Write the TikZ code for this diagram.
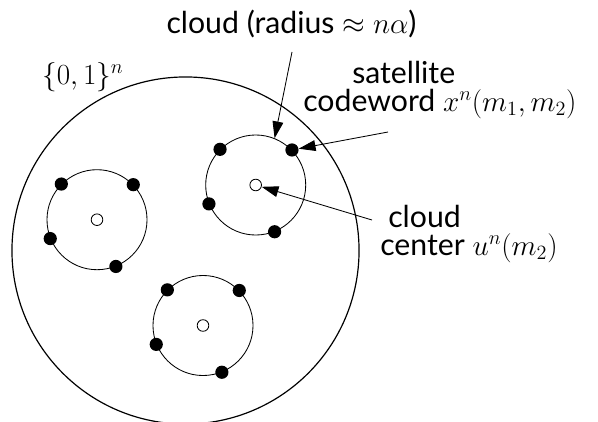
\documentclass[tikz,border=0pt]{standalone}
\usepackage{fontspec}
\setmainfont{Lato}
\usepackage{tikz}
\usetikzlibrary{shapes,arrows.meta,positioning}
\tikzstyle{Space} = [circle, draw=black, line width=0.85pt, minimum size=8.675cm, inner sep=0pt]
\tikzstyle{Cloud} = [circle, draw=black, line width=0.6pt, minimum size=2.5cm, inner sep=0pt]
\tikzstyle{Codeword} = [circle, fill=black, minimum size=0.33cm, inner sep=0pt]
\tikzstyle{Center} = [circle, draw=black, fill=white, line width=0.6pt, minimum size=0.29cm, inner sep=0pt]
\tikzstyle{Label} = [inner sep=0pt, anchor=base west, align=left, font=\fontsize{21.5}{19.9}\selectfont]
\tikzstyle{arrow} = [line width=0.6pt, -{Triangle[length=0.42cm,width=0.27cm]}]

\begin{document}
\begin{tikzpicture}[x=0.025cm, y=-0.025cm]
\useasboundingbox (0,0) rectangle (598,421);

\node (Hypercube)[Space] at (185.5,250.5) {};

\node (Cloud A)[Cloud] at (255.7,185) {};
\node (Cloud B)[Cloud] at (97,219.7) {};
\node (Cloud C)[Cloud] at (203,325.5) {};

\node (Center A)[Center] at (Cloud A.center) {};
\node (Center B)[Center] at (Cloud B.center) {};
\node (Center C)[Center] at (Cloud C.center) {};

\node (Dot A1)[Codeword] at (Cloud A.135) {};
\node (Dot A2)[Codeword] at (Cloud A.44) {};
\node (Dot A3)[Codeword] at (Cloud A.202) {};
\node (Dot A4)[Codeword] at (Cloud A.292) {};
\node (Dot B1)[Codeword] at (Cloud B.135) {};
\node (Dot B2)[Codeword] at (Cloud B.44) {};
\node (Dot B3)[Codeword] at (Cloud B.202) {};
\node (Dot B4)[Codeword] at (Cloud B.292) {};
\node (Dot C1)[Codeword] at (Cloud C.135) {};
\node (Dot C2)[Codeword] at (Cloud C.44) {};
\node (Dot C3)[Codeword] at (Cloud C.202) {};
\node (Dot C4)[Codeword] at (Cloud C.292) {};

\node (Space Label)[Label] at (42,84) {$\{0,1\}^{n}$};
\node (Radius Label)[Label, anchor=base] at (291.5,33) {cloud (radius $\approx n\alpha$)};
\node (Satellite Label)[Label] at (303,111) {\hspace*{1.225cm}satellite\\codeword $x^{n}(m_{1},m_{2})$};
\node (Cloud Label)[Label] at (380,255) {\hspace*{0.2cm}cloud\\center $u^{n}(m_{2})$};

\coordinate (Radius Tail) at (292,52);
\coordinate (Codeword Tail) at (388,132);
\coordinate (Center Tail) at (372,220);

\draw[arrow](Radius Tail)--(Cloud A.68);
\draw[arrow](Codeword Tail)--(Dot A2);
\draw[arrow](Center Tail)--(Center A);

\end{tikzpicture}
\end{document}
